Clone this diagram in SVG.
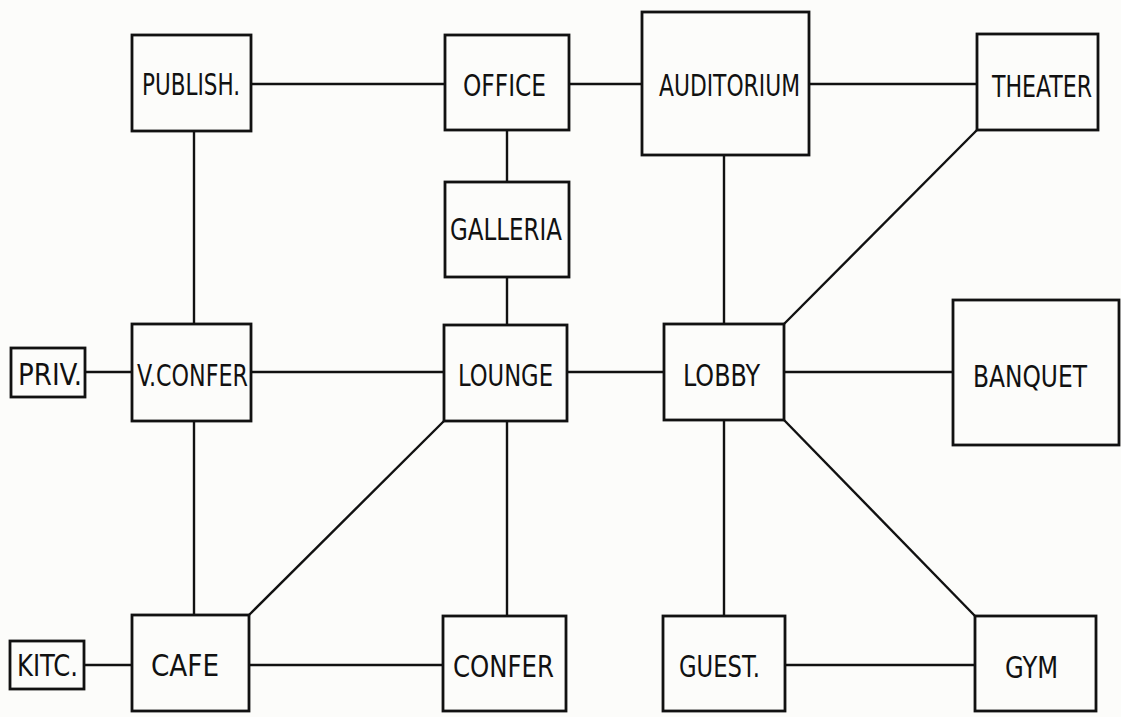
<svg xmlns="http://www.w3.org/2000/svg" width="1121" height="717" viewBox="0 0 1121 717">
<style>
.b{fill:none;stroke:#111;stroke-width:2.8}
.c line{stroke:#111;stroke-width:2.4}
text{font-family:"Liberation Sans Narrow","DejaVu Sans Condensed","Liberation Sans",sans-serif;font-size:30px;fill:#111}
</style>
<rect width="1121" height="717" fill="#fcfcfa"/>
<g class="c" id="connectors">
<line x1="194" y1="131" x2="194" y2="324"/>
<line x1="194" y1="421" x2="194" y2="615"/>
<line x1="507" y1="130" x2="507" y2="182"/>
<line x1="507" y1="277" x2="507" y2="325"/>
<line x1="507" y1="421" x2="507" y2="616"/>
<line x1="724" y1="155" x2="724" y2="324"/>
<line x1="724" y1="420" x2="724" y2="616"/>
<line x1="251" y1="84" x2="445" y2="84"/>
<line x1="569" y1="84" x2="642" y2="84"/>
<line x1="809" y1="84" x2="977" y2="84"/>
<line x1="85" y1="372" x2="132" y2="372"/>
<line x1="251" y1="372" x2="444" y2="372"/>
<line x1="567" y1="372" x2="664" y2="372"/>
<line x1="784" y1="372" x2="953" y2="372"/>
<line x1="84" y1="665" x2="132" y2="665"/>
<line x1="249" y1="665" x2="443" y2="665"/>
<line x1="785" y1="665" x2="975" y2="665"/>
<line x1="784" y1="324" x2="977" y2="130"/>
<line x1="444" y1="421" x2="249" y2="615"/>
<line x1="784" y1="420" x2="975" y2="616"/>
</g>
<g id="publish"><rect class="b" x="132" y="35" width="119" height="96"/><text x="142" y="95" textLength="98" lengthAdjust="spacingAndGlyphs">PUBLISH.</text></g>
<g id="office"><rect class="b" x="445" y="35" width="124" height="95"/><text x="463" y="96" textLength="83" lengthAdjust="spacingAndGlyphs">OFFICE</text></g>
<g id="auditorium"><rect class="b" x="642" y="12" width="167" height="143"/><text x="659" y="96" textLength="141" lengthAdjust="spacingAndGlyphs">AUDITORIUM</text></g>
<g id="theater"><rect class="b" x="977" y="34" width="121" height="96"/><text x="992" y="97" textLength="100" lengthAdjust="spacingAndGlyphs">THEATER</text></g>
<g id="galleria"><rect class="b" x="445" y="182" width="124" height="95"/><text x="450" y="240" textLength="112" lengthAdjust="spacingAndGlyphs">GALLERIA</text></g>
<g id="priv"><rect class="b" x="11" y="348" width="74" height="49"/><text x="18" y="385" textLength="64" lengthAdjust="spacingAndGlyphs">PRIV.</text></g>
<g id="vconfer"><rect class="b" x="132" y="324" width="119" height="97"/><text x="137" y="386" textLength="111" lengthAdjust="spacingAndGlyphs">V.CONFER</text></g>
<g id="lounge"><rect class="b" x="444" y="325" width="123" height="96"/><text x="458" y="386" textLength="95" lengthAdjust="spacingAndGlyphs">LOUNGE</text></g>
<g id="lobby"><rect class="b" x="664" y="324" width="120" height="96"/><text x="683" y="386" textLength="77" lengthAdjust="spacingAndGlyphs">LOBBY</text></g>
<g id="banquet"><rect class="b" x="953" y="300" width="166" height="145"/><text x="973" y="387" textLength="114" lengthAdjust="spacingAndGlyphs">BANQUET</text></g>
<g id="kitc"><rect class="b" x="10" y="641" width="74" height="48"/><text x="17" y="676" textLength="61" lengthAdjust="spacingAndGlyphs">KITC.</text></g>
<g id="cafe"><rect class="b" x="132" y="615" width="117" height="96"/><text x="151" y="676" textLength="68" lengthAdjust="spacingAndGlyphs">CAFE</text></g>
<g id="confer"><rect class="b" x="443" y="616" width="123" height="95"/><text x="453" y="677" textLength="101" lengthAdjust="spacingAndGlyphs">CONFER</text></g>
<g id="guest"><rect class="b" x="663" y="616" width="122" height="95"/><text x="679" y="677" textLength="81" lengthAdjust="spacingAndGlyphs">GUEST.</text></g>
<g id="gym"><rect class="b" x="975" y="616" width="121" height="95"/><text x="1005" y="678" textLength="53" lengthAdjust="spacingAndGlyphs">GYM</text></g>
</svg>
